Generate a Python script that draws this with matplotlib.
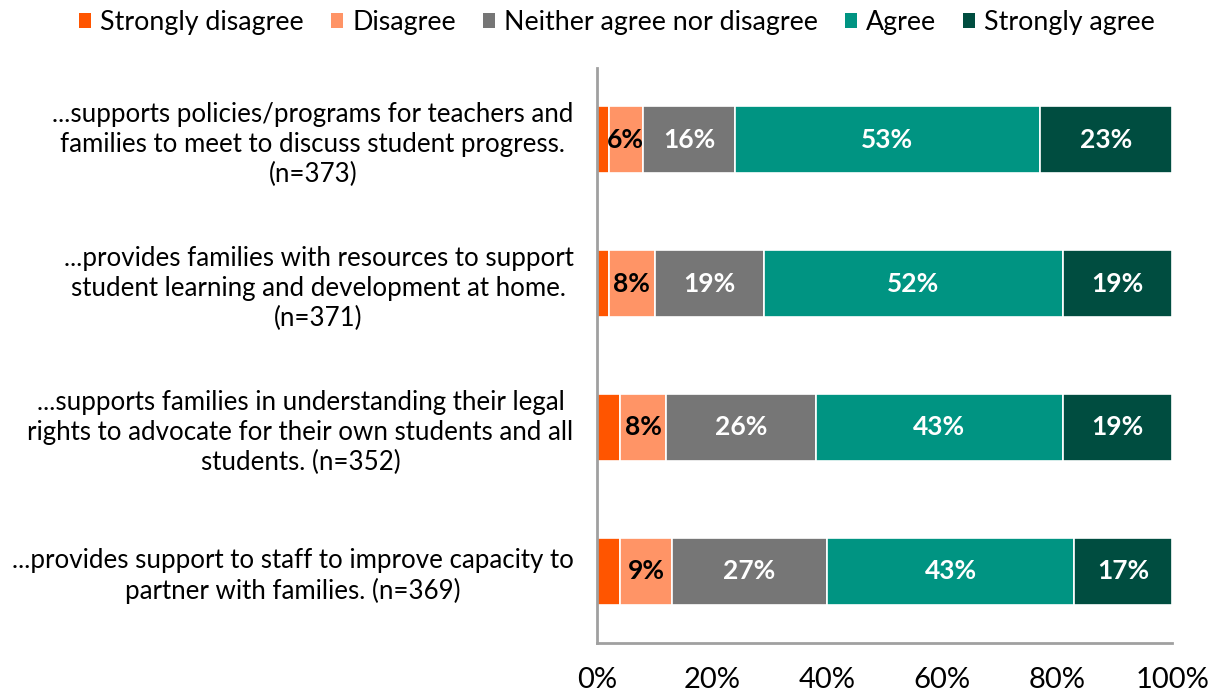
import matplotlib.pyplot as plt
from matplotlib.patches import Patch
import numpy as np

plt.rcParams["font.family"] = ["Lato", "DejaVu Sans"]

CATEGORIES = [
    "...supports policies/programs for teachers and\nfamilies to meet to discuss student progress.\n(n=373)",
    "...provides families with resources to support\nstudent learning and development at home.\n(n=371)",
    "...supports families in understanding their legal\nrights to advocate for their own students and all\nstudents. (n=352)",
    "...provides support to staff to improve capacity to\npartner with families. (n=369)",
]
SERIES = ["Strongly disagree", "Disagree", "Neither agree nor disagree", "Agree", "Strongly agree"]
STRONGLY_DISAGREE = [2, 2, 4, 4]
DISAGREE = [6, 8, 8, 9]
NEITHER = [16, 19, 26, 27]
AGREE = [53, 52, 43, 43]
STRONGLY_AGREE = [23, 19, 19, 17]

COLORS = ["#FF5500", "#FF9466", "#767676", "#009482", "#004D40"]
TEXT_COLORS = [None, "black", "white", "white", "white"]

values = [STRONGLY_DISAGREE, DISAGREE, NEITHER, AGREE, STRONGLY_AGREE]

fig = plt.figure(figsize=(12.17, 6.94), dpi=100)
ax = fig.add_axes([0.4906, 0.0735, 0.4725, 0.8285])

y = np.arange(len(CATEGORIES))
left = np.zeros(len(CATEGORIES))
for vals, color, tcolor, name in zip(values, COLORS, TEXT_COLORS, SERIES):
    vals = np.array(vals, dtype=float)
    ax.barh(y, vals, left=left, height=0.465, color=color, edgecolor="white",
            linewidth=1.2, label=name)
    if tcolor is not None:
        for yi, l, v in zip(y, left, vals):
            ax.text(l + v / 2, yi, f"{int(v)}%", ha="center", va="center",
                    color=tcolor, fontsize=19, fontweight="bold")
    left += vals

ax.set_xlim(0, 100)
ax.set_ylim(len(CATEGORIES) - 0.5, -0.5)
ax.set_xticks(range(0, 101, 20))
ax.set_xticklabels([f"{t}%" for t in range(0, 101, 20)], fontsize=21)
ax.set_yticks(y)
ax.set_yticklabels(CATEGORIES, fontsize=18.6, multialignment="center", linespacing=1.25)
ax.tick_params(axis="both", length=0)
ax.tick_params(axis="x", pad=17)
ax.tick_params(axis="y", pad=17)

for side in ["top", "right"]:
    ax.spines[side].set_visible(False)
for side in ["left", "bottom"]:
    ax.spines[side].set_color("#A0A0A0")
    ax.spines[side].set_linewidth(2)

handles = [Patch(facecolor=c, edgecolor="none") for c in COLORS]
fig.legend(handles, SERIES, loc="upper center", bbox_to_anchor=(0.507, 1.02), ncol=5,
           frameon=False, fontsize=19.3, handlelength=0.45, handleheight=0.5,
           handletextpad=0.35, columnspacing=1.0)

fig.savefig("out.png", dpi=100)
